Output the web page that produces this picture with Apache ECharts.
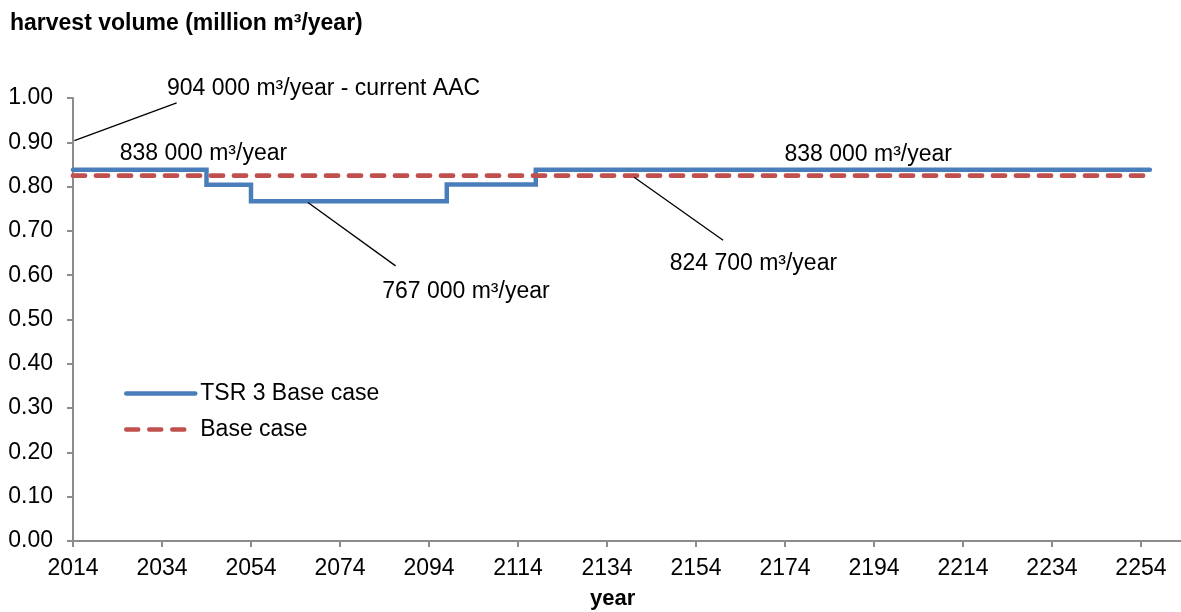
<!DOCTYPE html>
<html lang="en">
<head>
  <meta charset="UTF-8">
  <title>Harvest volume</title>
  <script src="https://cdn.jsdelivr.net/npm/echarts@6/dist/echarts.min.js"></script>
  <style>
    html, body { margin: 0; padding: 0; background: #fff; }
    #chart { width: 1181px; height: 612px; }
  </style>
</head>
<body>
  <div id="chart"></div>
  <script>
    // data
    const baseYear = 2014;
    const lastYear = 2263;
    const tsrYears = [2014, 2044, 2054, 2098, 2118, 2256];
    const tsrValues = [0.838, 0.804, 0.767, 0.805, 0.838, 0.838];
    const baseYears = [2014, 2256];
    const baseValues = [0.8247, 0.8247];
    const seriesNames = ['TSR 3 Base case', 'Base case'];

    // annotation texts and where they sit (year, value)
    const noteTexts = ['904 000 m³/year - current AAC', '838 000 m³/year', '767 000 m³/year', '824 700 m³/year', '838 000 m³/year'];
    const noteAt = [[2070.3, 1.022], [2043.3, 0.874], [2102.3, 0.563], [2166.9, 0.627], [2192.7, 0.872]];
    const leaders = [
      [[2014.3, 0.904], [2037.3, 0.989]],
      [[2066.8, 0.764], [2086.5, 0.621]],
      [[2140.1, 0.821], [2160.1, 0.679]]
    ];

    const font = '"Liberation Sans", Arial, sans-serif';
    const toPairs = (xs, ys) => xs.map((x, i) => [x - baseYear, ys[i]]);

    const chart = echarts.init(document.getElementById('chart'));
    chart.setOption({
      backgroundColor: '#fff',
      animation: false,
      textStyle: { fontFamily: font },
      title: [
        {
          text: 'harvest volume (million m³/year)',
          left: 10, top: 12, padding: 0,
          textStyle: { fontFamily: font, fontSize: 23, fontWeight: 'bold', color: '#000' }
        },
        {
          text: 'year',
          left: 590, top: 588, padding: 0,
          textStyle: { fontFamily: font, fontSize: 22, fontWeight: 'bold', color: '#000' }
        }
      ],
      legend: {
        orient: 'vertical',
        left: 119, top: 377,
        itemWidth: 69, itemHeight: 14, itemGap: 13,
        data: seriesNames,
        itemStyle: { opacity: 0 },
        lineStyle: { width: 4.5, cap: 'round' },
        textStyle: { fontFamily: font, fontSize: 23, color: '#000', lineHeight: 22 }
      },
      grid: { left: 73, right: 0, top: 98, bottom: 71 },
      xAxis: {
        type: 'value',
        min: 0, max: lastYear - baseYear, interval: 20,
        splitLine: { show: false },
        axisLine: { lineStyle: { color: '#8c8c8c', width: 2 } },
        axisTick: { length: 6, lineStyle: { color: '#8c8c8c', width: 2 } },
        axisLabel: {
          margin: 16, color: '#000', fontSize: 23, fontFamily: font,
          showMaxLabel: false,
          formatter: v => String(v + baseYear)
        }
      },
      yAxis: {
        type: 'value',
        min: 0, max: 1, interval: 0.1,
        splitLine: { show: false },
        axisLine: { show: true, lineStyle: { color: '#8c8c8c', width: 2 } },
        axisTick: { show: true, length: 6, lineStyle: { color: '#8c8c8c', width: 2 } },
        axisLabel: {
          margin: 20, color: '#000', fontSize: 23, fontFamily: font,
          formatter: v => v.toFixed(2)
        }
      },
      series: [
        {
          name: seriesNames[0],
          type: 'line',
          step: 'end',
          symbol: 'none',
          data: toPairs(tsrYears, tsrValues),
          lineStyle: { color: '#4a7ebb', width: 4.5, cap: 'round', join: 'miter' },
          itemStyle: { color: '#4a7ebb' },
          markLine: {
            silent: true,
            symbol: ['none', 'none'],
            label: { show: false },
            lineStyle: { color: '#000', width: 1.3, type: 'solid' },
            data: leaders.map(l => [
              { coord: [l[0][0] - baseYear, l[0][1]] },
              { coord: [l[1][0] - baseYear, l[1][1]] }
            ])
          }
        },
        {
          name: seriesNames[1],
          type: 'line',
          symbol: 'none',
          data: toPairs(baseYears, baseValues),
          lineStyle: { color: '#c0504d', width: 4.8, type: [12, 11], cap: 'round' },
          itemStyle: { color: '#c0504d' }
        }
      ]
    });

    // annotation texts placed through the axes (one sits above the plot area)
    const notes = noteTexts.map((t, i) => {
      const p = chart.convertToPixel({ gridIndex: 0 }, [noteAt[i][0] - baseYear, noteAt[i][1]]);
      return {
        type: 'text',
        x: p[0], y: p[1],
        silent: true,
        style: {
          text: t, fill: '#000',
          font: '23px ' + font,
          textAlign: 'center', textVerticalAlign: 'middle'
        }
      };
    });
    chart.setOption({ graphic: notes });
  </script>
</body>
</html>
